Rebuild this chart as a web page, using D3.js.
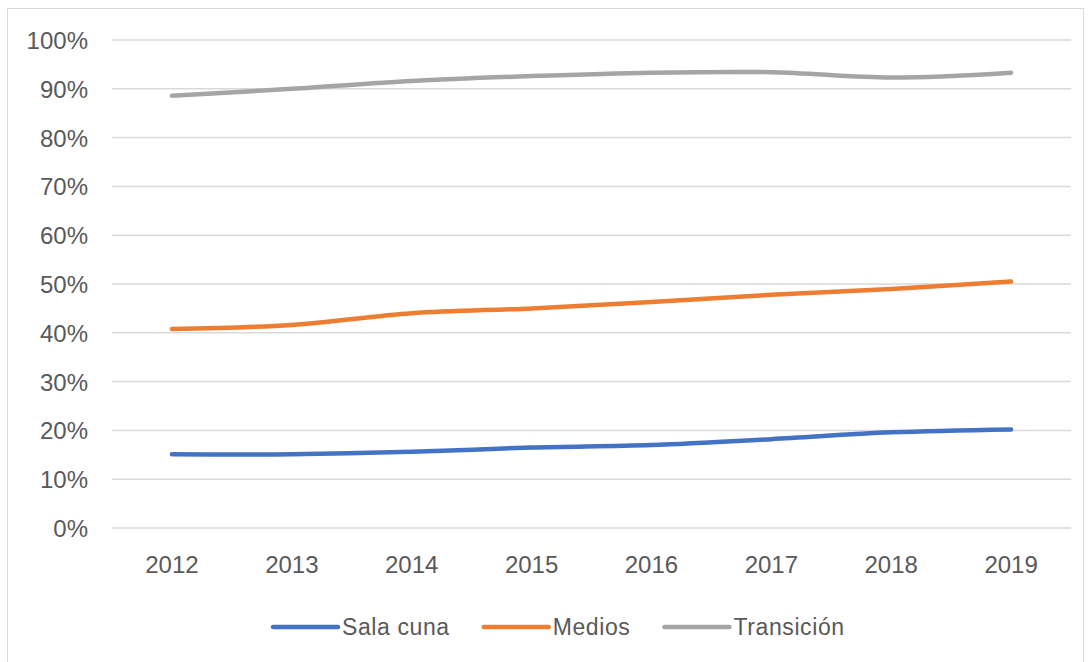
<!DOCTYPE html>
<html>
<head>
<meta charset="utf-8">
<script src="https://cdn.jsdelivr.net/npm/d3@7"></script>
<style>
  body { margin: 0; background: #fff; }
  text { font-family: "Liberation Sans", Arial, sans-serif; fill: #595959; }
</style>
</head>
<body>
<svg id="chart" width="1091" height="662"></svg>
<script>
// data
const years = ["2012", "2013", "2014", "2015", "2016", "2017", "2018", "2019"];
const salaCuna = [0.151, 0.151, 0.156, 0.165, 0.170, 0.182, 0.196, 0.202];
const medios = [0.408, 0.416, 0.440, 0.450, 0.463, 0.478, 0.490, 0.505];
const transicion = [0.886, 0.900, 0.916, 0.926, 0.933, 0.934, 0.923, 0.933];
const yTicks = [0, 0.1, 0.2, 0.3, 0.4, 0.5, 0.6, 0.7, 0.8, 0.9, 1];

const series = [
    { name: "Sala cuna", values: salaCuna, color: "#4472C4" },
    { name: "Medios", values: medios, color: "#ED7D31" },
    { name: "Transición", values: transicion, color: "#A5A5A5" }
];

const svg = d3.select("#chart");

// outer frame
svg.append("rect")
    .attr("x", 7.5).attr("y", 8.5)
    .attr("width", 1076).attr("height", 660)
    .attr("fill", "none")
    .attr("stroke", "#d9d9d9");

const plot = { left: 112, right: 1071, top: 40, bottom: 528 };

const x = d3.scaleBand().domain(years).range([plot.left, plot.right]);
const y = d3.scaleLinear().domain([0, 1]).range([plot.bottom, plot.top]);

// gridlines
svg.append("g")
    .selectAll("line")
    .data(yTicks)
    .enter().append("line")
    .attr("x1", plot.left).attr("x2", plot.right)
    .attr("y1", d => y(d)).attr("y2", d => y(d))
    .attr("stroke", "#d9d9d9")
    .attr("stroke-width", 1.5);

// y axis labels
const yAxis = svg.append("g")
    .attr("transform", "translate(" + (plot.left - 4) + ",0)")
    .call(d3.axisLeft(y).tickValues(yTicks).tickFormat(d3.format(".0%")).tickSize(0).tickPadding(20));
yAxis.select(".domain").remove();
yAxis.selectAll("text")
    .style("font-size", "24px")
    .attr("fill", "#595959")
    .attr("dy", "0.35em");

// x axis labels
const xAxis = svg.append("g")
    .attr("transform", "translate(0," + plot.bottom + ")")
    .call(d3.axisBottom(x).tickSize(0).tickPadding(28));
xAxis.select(".domain").remove();
xAxis.selectAll("text")
    .style("font-size", "24px")
    .attr("fill", "#595959");

// lines
const line = d3.line()
    .x((d, i) => x(years[i]) + x.bandwidth() / 2)
    .y(d => y(d))
    .curve(d3.curveCatmullRom.alpha(0.5));

svg.append("g")
    .selectAll("path")
    .data(series)
    .enter().append("path")
    .attr("d", d => line(d.values))
    .attr("fill", "none")
    .attr("stroke", d => d.color)
    .attr("stroke-width", 4.5)
    .attr("stroke-linecap", "round");

// legend
const legendY = 627;
let lx = 273;
series.forEach(function (s) {
    svg.append("line")
        .attr("x1", lx).attr("x2", lx + 65)
        .attr("y1", legendY).attr("y2", legendY)
        .attr("stroke", s.color)
        .attr("stroke-width", 4.5)
        .attr("stroke-linecap", "round");
    const t = svg.append("text")
        .attr("x", lx + 69)
        .attr("y", legendY)
        .attr("dy", "0.35em")
        .style("font-size", "23px")
        .style("letter-spacing", "0.6px")
        .text(s.name);
    lx += 69 + t.node().getComputedTextLength() + 34;
});
</script>
</body>
</html>
